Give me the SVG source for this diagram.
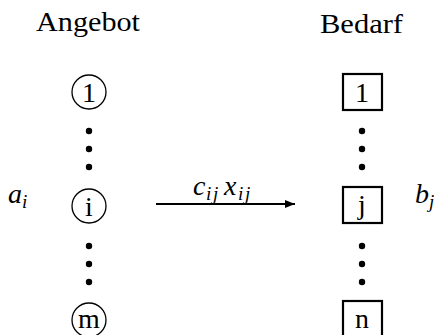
<svg xmlns="http://www.w3.org/2000/svg" width="438" height="335" viewBox="0 0 438 335">
<defs>
<style>
.t{fill:#000;font-family:'Liberation Serif','Times New Roman','DejaVu Serif',serif}
.hd{font-size:27px}
.lb{font-size:28px;text-anchor:middle}
.m{font-style:italic;font-size:28px}
.s{font-style:italic;font-size:19px}
.c{fill:none;stroke:#000;stroke-width:1.3}
.b{fill:none;stroke:#000;stroke-width:2.2}
.d{fill:#000}
</style>
<marker id="ah" viewBox="0 0 10 8" refX="10" refY="4" markerWidth="12" markerHeight="8" markerUnits="userSpaceOnUse" orient="auto">
<path d="M0,0 L10,4 L0,8 Z" fill="#000"/>
</marker>
</defs>
<g class="t">
<text class="hd" x="36" y="31" textLength="104" lengthAdjust="spacingAndGlyphs">Angebot</text>
<text class="hd" x="320" y="33" textLength="83" lengthAdjust="spacingAndGlyphs">Bedarf</text>
<g id="s1"><circle class="c" cx="89" cy="92" r="17"/><text class="lb" x="89" y="102">1</text></g>
<g id="si"><circle class="c" cx="89" cy="206" r="17"/><text class="lb" x="89" y="216">i</text></g>
<g id="sm"><circle class="c" cx="89" cy="320" r="17"/><text class="lb" x="89" y="328">m</text></g>
<g id="dotsL">
<circle class="d" cx="89" cy="131" r="3.2"/><circle class="d" cx="89" cy="149" r="3.2"/><circle class="d" cx="89" cy="167" r="3.2"/>
<circle class="d" cx="89" cy="246" r="3.2"/><circle class="d" cx="89" cy="264" r="3.2"/><circle class="d" cx="89" cy="282" r="3.2"/>
</g>
<g id="d1"><rect class="b" x="343" y="74" width="39" height="36"/><text class="lb" x="362" y="102">1</text></g>
<g id="dj"><rect class="b" x="343" y="187" width="39" height="36"/><text class="lb" x="362" y="214">j</text></g>
<g id="dn"><rect class="b" x="343" y="301" width="39" height="36"/><text class="lb" x="362" y="328">n</text></g>
<g id="dotsR">
<circle class="d" cx="362" cy="131" r="3.2"/><circle class="d" cx="362" cy="149" r="3.2"/><circle class="d" cx="362" cy="167" r="3.2"/>
<circle class="d" cx="362" cy="246" r="3.2"/><circle class="d" cx="362" cy="264" r="3.2"/><circle class="d" cx="362" cy="282" r="3.2"/>
</g>
<g id="ai"><text class="m" x="8" y="203">a</text><text class="s" x="22" y="208">i</text></g>
<g id="bj"><text class="m" x="415" y="203">b</text><text class="s" x="429" y="208">j</text></g>
<g id="connectors">
<line x1="156" y1="204" x2="295" y2="204" stroke="#000" stroke-width="2" marker-end="url(#ah)"/>
<text x="193" y="195"><tspan class="m">c</tspan><tspan class="s" x="206" y="200">i</tspan><tspan class="s" x="213" y="200">j</tspan><tspan class="m" x="224" y="195">x</tspan><tspan class="s" x="238" y="200">i</tspan><tspan class="s" x="245" y="200">j</tspan></text>
</g>
</g>
</svg>
